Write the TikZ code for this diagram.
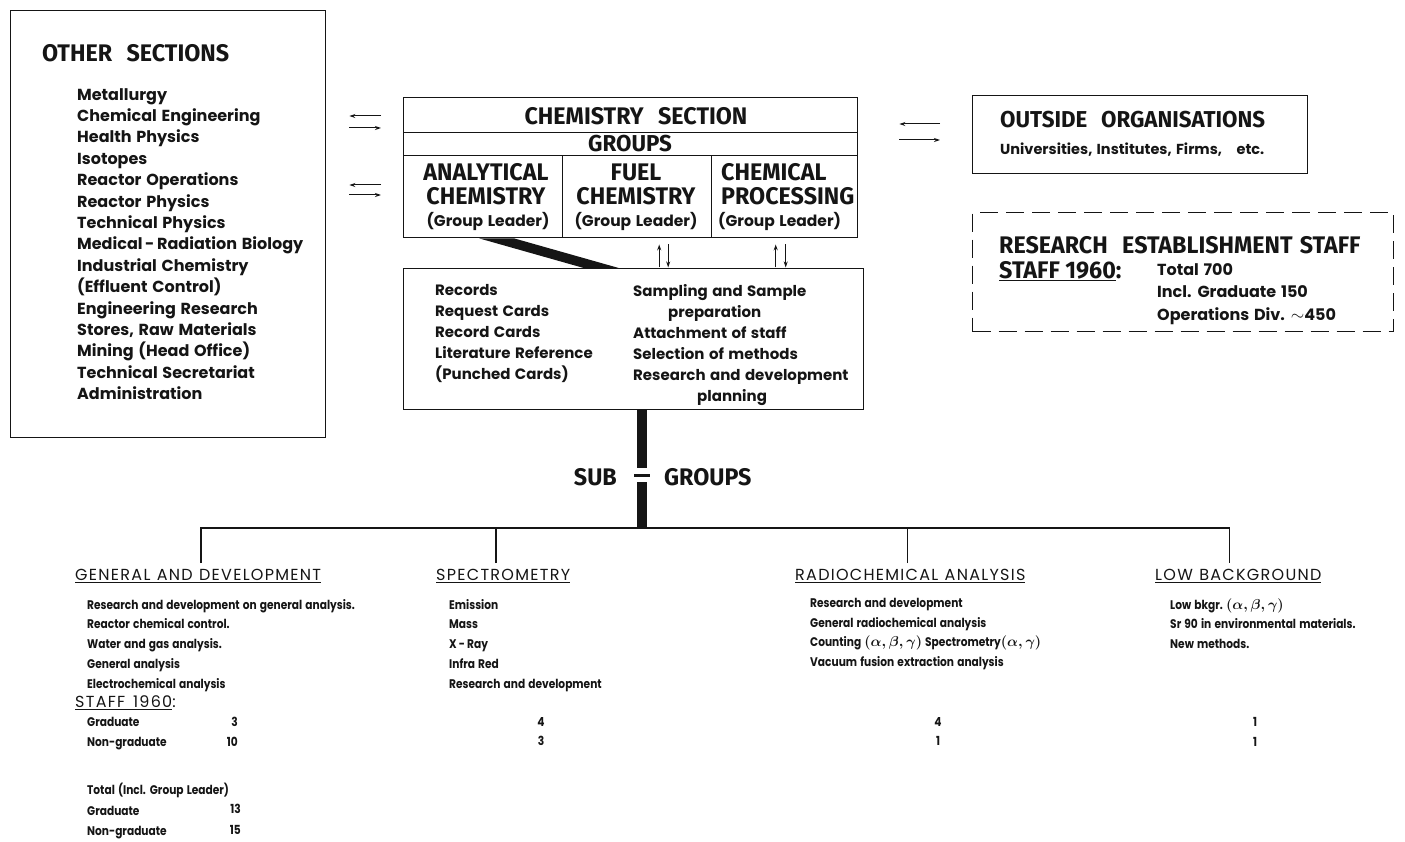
\documentclass[tikz,border=0pt]{standalone}
\usepackage{fontspec}
\setmainfont{Poppins}
\newfontfamily\headfont{Fira Sans}[FakeStretch=0.97]
\newfontfamily\bodyfont{Poppins}[WordSpace=1.4]
\newfontfamily\capsfont{Poppins}[LetterSpace=8, WordSpace=1.4]
\newfontfamily\smallfont{Poppins}[FakeStretch=0.85, WordSpace=1.4]
\usetikzlibrary{arrows.meta,calc,positioning}
\definecolor{Ink}{HTML}{151515}
\newcommand{\rays}[1]{{\fontsize{15}{15}\selectfont$(#1)$}}

\begin{document}
\begin{tikzpicture}[
  x=1pt, y=-1pt,
  box/.style={draw=Ink, line width=1.4pt, inner sep=0pt},
  head/.style={font=\headfont\bfseries\fontsize{24}{24}\selectfont, text=Ink, inner sep=0pt},
  headsm/.style={head, font=\headfont\bfseries\fontsize{23}{23}\selectfont},
  item/.style={font=\bodyfont\bfseries\fontsize{16}{21.4}\selectfont, text=Ink, align=left, inner sep=0pt},
  rec/.style={item, font=\bodyfont\bfseries\fontsize{15}{21}\selectfont},
  lead/.style={item, font=\bodyfont\bfseries\fontsize{15.5}{15.5}\selectfont},
  subhd/.style={font=\capsfont\fontsize{16}{16}\selectfont, text=Ink, inner sep=0pt},
  small/.style={font=\smallfont\bfseries\boldmath\fontsize{12.5}{19.7}\selectfont, text=Ink, align=left, inner sep=0pt},
  arr/.style={-{Stealth[length=6pt,width=4pt]}, line width=1pt, Ink},
  stem/.style={line width=10pt, Ink},
  bar/.style={line width=1.4pt, Ink}
]
  \useasboundingbox (0,0) rectangle (1405,842);

  % Other sections
  \node[box, anchor=north west, minimum width=315, minimum height=427] (other) at (10,10) {};
  \node[head, anchor=west] (otherhd) at (42,53) {OTHER\hspace{0.6em}SECTIONS};
  \node[item, anchor=north west] (otherlist) at (77,88)
    {Metallurgy\\Chemical Engineering\\Health Physics\\Isotopes\\Reactor Operations\\
     Reactor Physics\\Technical Physics\\Medical\,-\,Radiation Biology\\Industrial Chemistry\\
     (Effluent Control)\\Engineering Research\\Stores, Raw Materials\\Mining (Head Office)\\
     Technical Secretariat\\Administration};

  % Chemistry section and its groups
  \node[box, anchor=north west, minimum width=454, minimum height=35] (sect)   at (403,97)  {};
  \node[box, anchor=north west, minimum width=454, minimum height=23] (groups) at (403,132) {};
  \node[box, anchor=north west, minimum width=159, minimum height=82] (anal)   at (403,155) {};
  \node[box, anchor=north west, minimum width=149, minimum height=82] (fuel)   at (562,155) {};
  \node[box, anchor=north west, minimum width=146, minimum height=82] (proc)   at (711,155) {};

  \node[head]   (secttxt)   at (636,116) {CHEMISTRY\hspace{0.6em}SECTION};
  \node[headsm] (groupstxt) at (630,144) {GROUPS};
  \node[head, align=center] (analtxt) at (486,184) {ANALYTICAL\\CHEMISTRY};
  \node[head, align=center] (fueltxt) at (636,184) {FUEL\\CHEMISTRY};
  \node[head, align=left, anchor=west] (proctxt) at (721,184) {CHEMICAL\\PROCESSING};
  \node[lead] (analgl) at (488,221) {(Group Leader)};
  \node[lead] (fuelgl) at (636,221) {(Group Leader)};
  \node[lead, anchor=west] (procgl) at (718,221) {(Group Leader)};

  % Links to the other sections
  \draw[arr, shorten <=22pt, shorten >=23pt] (sect.west |- 0,116) -- (other.east |- 0,116);
  \draw[arr, shorten <=23pt, shorten >=22pt] (other.east |- 0,128) -- (sect.west |- 0,128);
  \draw[arr, shorten <=22pt, shorten >=23pt] (sect.west |- 0,185) -- (other.east |- 0,185);
  \draw[arr, shorten <=23pt, shorten >=22pt] (other.east |- 0,195) -- (sect.west |- 0,195);

  % Outside organisations
  \node[box, anchor=north west, minimum width=335, minimum height=78] (outside) at (972,95) {};
  \node[headsm, anchor=west] (outhd) at (1000,120) {OUTSIDE\hspace{0.6em}ORGANISATIONS};
  \node[lead, font=\bodyfont\bfseries\fontsize{14.5}{14.5}\selectfont, anchor=west] (outtxt)
    at (1000,150) {Universities, Institutes, Firms,\hspace{1em}etc.};
  \draw[arr, shorten <=32pt, shorten >=41pt] (outside.west |- 0,124) -- (sect.east |- 0,124);
  \draw[arr, shorten <=41pt, shorten >=32pt] (sect.east |- 0,140) -- (outside.west |- 0,140);

  % Establishment staff
  \node[box, dash pattern=on 18pt off 8pt, anchor=north west,
        minimum width=421, minimum height=119] (staff) at (972,212) {};
  \node[head, anchor=west] (staffhd) at (999,245) {RESEARCH\hspace{0.6em}ESTABLISHMENT\hspace{0.3em}STAFF};
  \node[head, anchor=west] (staff60) at (999,271) {\underline{STAFF 1960}:};
  \node[item, anchor=north west, font=\bodyfont\bfseries\fontsize{16}{22.5}\selectfont]
    (stafftot) at (1157,263) {Total 700\\Incl. Graduate 150\\Operations Div. $\sim$450};

  % Records box
  \node[box, anchor=north west, minimum width=460, minimum height=141] (records) at (403,268) {};
  \node[rec, anchor=north west] (reclist) at (435,284)
    {Records\\Request Cards\\Record Cards\\Literature Reference\\(Punched Cards)};
  \node[rec, anchor=north west] (recduty) at (633,284)
    {Sampling and Sample\\\hspace{35pt}preparation\\Attachment of staff\\Selection of methods\\
     Research and development\\\hspace{64pt}planning};

  \fill[Ink] ($(anal.south)+(-4,0)$) -- ($(anal.south)+(31,0)$)
    -- ($(records.north)+(-15,0)$) -- ($(records.north)+(-50,0)$) -- cycle;
  \draw[arr] ($(fuel.south)+(22,29)$) -- ($(fuel.south)+(22,6)$);
  \draw[arr] ($(fuel.south)+(31,6)$) -- ($(fuel.south)+(31,29)$);
  \draw[arr] ($(proc.south)+(-9,29)$) -- ($(proc.south)+(-9,6)$);
  \draw[arr] ($(proc.south)+(1,6)$) -- ($(proc.south)+(1,29)$);

  % Sub groups
  \coordinate (bus) at (642,528);
  \coordinate (gap) at (642,475);
  \draw[stem] (bus |- records.south) -- ($(gap)+(0,-7)$);
  \draw[stem] ($(gap)+(0,7)$) -- (bus);
  \draw[line width=3pt, Ink] ($(gap)+(-8,0)$) -- ($(gap)+(8,0)$);
  \node[head, anchor=east] (subtxt) at (617,477) {SUB};
  \node[head, anchor=west] (grptxt) at (664,477) {GROUPS};

  \node[subhd, anchor=west] (hdgen)   at (75,576)   {\underline{GENERAL\hspace{0.4em}AND\hspace{0.4em}DEVELOPMENT}};
  \node[subhd, anchor=west] (hdspec)  at (436,576)  {\underline{SPECTROMETRY}};
  \node[subhd, anchor=west] (hdradio) at (795,576)  {\underline{RADIOCHEMICAL\hspace{0.4em}ANALYSIS}};
  \node[subhd, anchor=west] (hdlow)   at (1155,576) {\underline{LOW\hspace{0.4em}BACKGROUND}};

  \coordinate (gendrop)   at ([xshift=3pt]hdgen.north);
  \coordinate (specdrop)  at ([xshift=-7pt]hdspec.north);
  \coordinate (radiodrop) at ([xshift=-3pt]hdradio.north);
  \coordinate (lowdrop)   at ([xshift=-9pt]hdlow.north);
  \draw[bar, shorten <=6pt, shorten >=6pt] (gendrop) -- (gendrop |- bus)
    -- (lowdrop |- bus) -- (lowdrop);
  \draw[bar, shorten <=6pt] (specdrop) -- (specdrop |- bus);
  \draw[bar, shorten <=6pt] (radiodrop) -- (radiodrop |- bus);

  % Sub group duties
  \node[small, anchor=north west] (gentask) at (87,599)
    {Research and development on general analysis.\\Reactor chemical control.\\
     Water and gas analysis.\\General analysis\\Electrochemical analysis};
  \node[small, anchor=north west] (spectask) at (449,599)
    {Emission\\Mass\\X\,-\,Ray\\Infra Red\\Research and development};
  \node[small, anchor=north west] (radiotask) at (810,598)
    {Research and development\\General radiochemical analysis\\
     Counting \rays{\alpha,\beta,\gamma} Spectrometry\rays{\alpha,\gamma}\\Vacuum fusion extraction analysis};
  \node[small, anchor=north west] (lowtask) at (1170,598)
    {Low bkgr.\ \rays{\alpha,\beta,\gamma}\\Sr 90 in environmental materials.\\New methods.};

  % Staff 1960 per sub group
  \node[subhd, anchor=west] (genstaff) at (75,703) {\underline{STAFF 1960}:};
  \node[small, anchor=north west] (genkind) at (87,717) {Graduate\\Non-graduate};
  \node[small, anchor=north east, align=right] (gennum) at (238,717) {3\\10};
  \node[small, anchor=north, align=center] (specnum) at (541,717) {4\\3};
  \node[small, anchor=north, align=center] (radionum) at (938,717) {4\\1};
  \node[small, anchor=north, align=center] (lownum) at (1255,717) {1\\1};
  \node[small, anchor=north west, font=\smallfont\bfseries\fontsize{12.5}{20.5}\selectfont]
    (gentotal) at (87,783) {Total (Incl. Group Leader)\\Graduate\\Non-graduate};
  \node[small, anchor=north east, align=right, font=\smallfont\bfseries\fontsize{12.5}{20.5}\selectfont]
    (gentotnum) at (241,804) {13\\15};
\end{tikzpicture}
\end{document}
